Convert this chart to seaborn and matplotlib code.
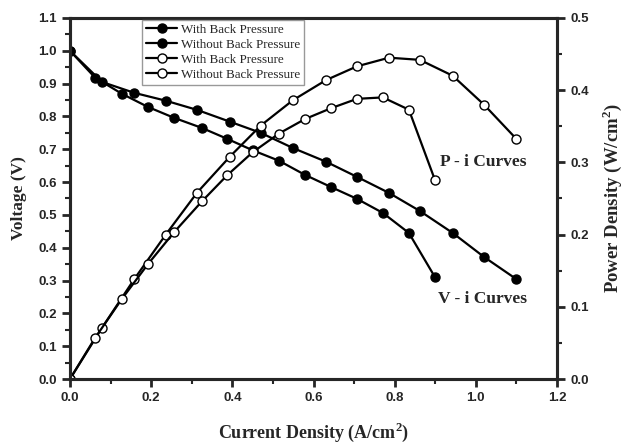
import numpy as np
import pandas as pd
import seaborn as sns
import matplotlib.pyplot as plt
from matplotlib.ticker import MultipleLocator

# current density (A/cm2) at each measured point
i_with = [0.0, 0.079, 0.158, 0.236, 0.313, 0.394, 0.470, 0.549, 0.631, 0.707,
          0.786, 0.862, 0.943, 1.020, 1.099]
i_without = [0.0, 0.062, 0.128, 0.192, 0.256, 0.325, 0.387, 0.450, 0.515, 0.579,
             0.643, 0.707, 0.771, 0.835, 0.899]

# voltage (V)
v_with = [1.0, 0.905, 0.872, 0.848, 0.820, 0.784, 0.750, 0.704, 0.662, 0.616,
          0.567, 0.512, 0.445, 0.372, 0.305]
v_without = [1.0, 0.918, 0.869, 0.829, 0.796, 0.765, 0.732, 0.697, 0.665, 0.622,
             0.585, 0.549, 0.506, 0.445, 0.311]

# power density (W/cm2)
p_with = [0.0, 0.071, 0.138, 0.200, 0.258, 0.308, 0.351, 0.386, 0.414, 0.433,
          0.445, 0.442, 0.420, 0.380, 0.333]
p_without = [0.0, 0.057, 0.111, 0.159, 0.203, 0.246, 0.282, 0.314, 0.340, 0.360,
             0.375, 0.388, 0.390, 0.373, 0.276]

labels = ["With Back Pressure", "Without Back Pressure"]

sns.set_style("ticks")
plt.rcParams['font.family'] = ['Liberation Serif', 'DejaVu Serif']
plt.rcParams['axes.linewidth'] = 2.2
plt.rcParams['mathtext.fontset'] = 'custom'
plt.rcParams['mathtext.rm'] = 'Liberation Serif'
plt.rcParams['mathtext.bf'] = 'Liberation Serif:bold'

fig = plt.figure(figsize=(6.27, 4.45), dpi=100)
ax = fig.add_axes([0.1116, 0.1483, 0.7768, 0.8113])
ax2 = ax.twinx()

line_kw = dict(color='black', linewidth=1.6, marker='o', markersize=6.5,
               markeredgecolor='black', markeredgewidth=1.0,
               sort=False, estimator=None)

for xs, vs, lab in [(i_with, v_with, labels[0]), (i_without, v_without, labels[1])]:
    df = pd.DataFrame({'i': xs, 'v': vs})
    sns.lineplot(data=df, x='i', y='v', ax=ax, label=lab,
                 markerfacecolor='black', **line_kw)

for xs, ps, lab in [(i_with, p_with, labels[0]), (i_without, p_without, labels[1])]:
    df = pd.DataFrame({'i': xs, 'p': ps})
    sns.lineplot(data=df, x='i', y='p', ax=ax2, label=lab,
                 markerfacecolor='white', **line_kw)

ax.set_xlim(0, 1.2)
ax.set_ylim(0, 1.1)
ax2.set_ylim(0, 0.5)

ax.xaxis.set_major_locator(MultipleLocator(0.2))
ax.xaxis.set_minor_locator(MultipleLocator(0.1))
ax.yaxis.set_major_locator(MultipleLocator(0.1))
ax.yaxis.set_minor_locator(MultipleLocator(0.05))
ax2.yaxis.set_major_locator(MultipleLocator(0.1))
ax2.yaxis.set_minor_locator(MultipleLocator(0.05))
ax.xaxis.set_major_formatter(plt.FormatStrFormatter('%.1f'))
ax.yaxis.set_major_formatter(plt.FormatStrFormatter('%.1f'))
ax2.yaxis.set_major_formatter(plt.FormatStrFormatter('%.1f'))

for a in (ax, ax2):
    a.tick_params(which='major', direction='out', length=6, width=2)
    a.tick_params(which='minor', direction='out', length=3.5, width=1.5)
    for s in a.spines.values():
        s.set_linewidth(2.2)
    for t in a.get_xticklabels() + a.get_yticklabels():
        t.set_fontfamily('Liberation Sans')
        t.set_fontweight('bold')
        t.set_fontsize(9.5)

ax.set_xlabel('Current Density (A/cm$^\\mathbf{2}$)', fontsize=13, fontweight='bold', labelpad=12)
ax.set_ylabel('Voltage (V)', fontsize=12.5, fontweight='bold', labelpad=8)
ax2.set_ylabel('Power Density (W/cm$^\\mathbf{2}$)', fontsize=13.5, fontweight='bold', labelpad=8)

ax.text(1.017, 0.662, 'P - i Curves', fontsize=12.5, fontweight='bold', ha='center', va='center')
ax.text(1.017, 0.244, 'V - i Curves', fontsize=12.5, fontweight='bold', ha='center', va='center')

h1, l1 = ax.get_legend_handles_labels()
h2, l2 = ax2.get_legend_handles_labels()
ax.get_legend().remove()
ax2.legend(h1 + h2, l1 + l2, loc='upper left', bbox_to_anchor=(0.148, 0.995),
           fontsize=9.4, frameon=True, fancybox=False, edgecolor='gray',
           handlelength=2.4, borderpad=0.3, labelspacing=0.22, handletextpad=0.3,
           borderaxespad=0)

fig.savefig('out.png', dpi=100)
